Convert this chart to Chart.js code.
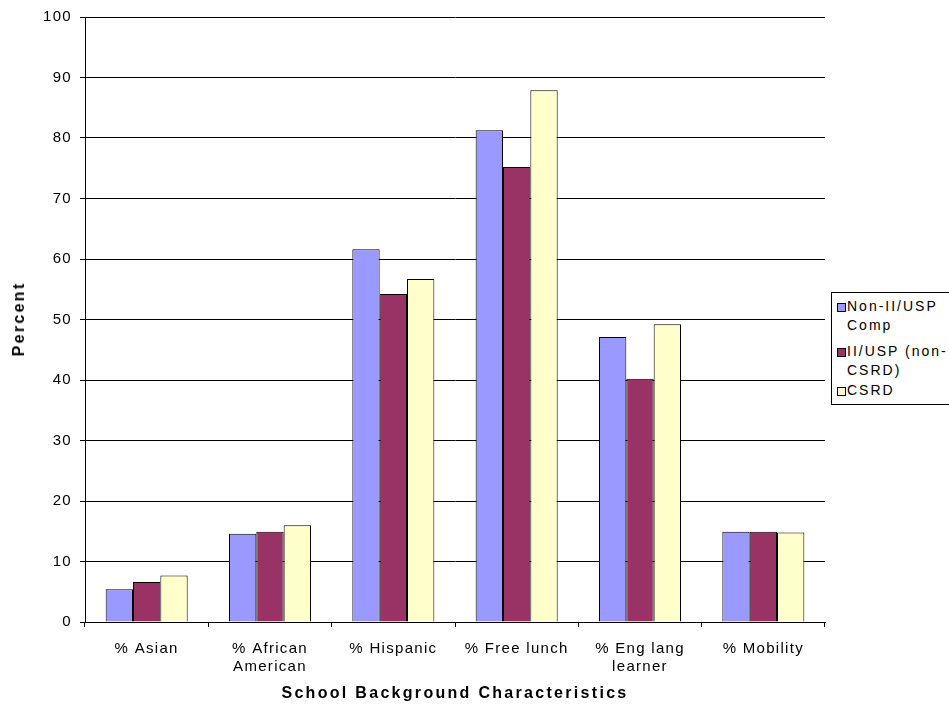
<!DOCTYPE html>
<html>
<head>
<meta charset="utf-8">
<script src="https://cdn.jsdelivr.net/npm/chart.js@4/dist/chart.umd.min.js"></script>
<style>
    body { margin: 0; background: #fff; }
    #wrap { position: relative; width: 949px; height: 704px; font-family: "Liberation Sans", Arial, sans-serif; color: #000; }
    #legend {
        position: absolute; left: 831px; top: 292px; width: 130px; height: 113px;
        border: 1px solid #000; background: #fff; box-sizing: border-box;
        font-size: 14px; letter-spacing: 2px;
    }
    .item { position: absolute; left: 5px; line-height: 18.5px; white-space: nowrap; }
    .item span.sw {
        display: inline-block; width: 7px; height: 7px; border: 1px solid #000;
        vertical-align: top; margin-top: 6px; margin-right: 1px;
    }
    .item span.tx { display: inline-block; vertical-align: top; }
    .title { position: absolute; font-weight: bold; font-size: 16px; letter-spacing: 2.3px; white-space: nowrap; line-height: 20px; }
    #xTitle { left: 455px; top: 683px; transform: translateX(-50%); }
    #yTitle { left: 19px; top: 319px; transform: translate(-50%, -50%) rotate(-90deg); }
</style>
</head>
<body>
<div id="wrap">
    <canvas id="graph1" width="949" height="704"></canvas>
    <div id="legend"></div>
    <div class="title" id="yTitle">Percent</div>
    <div class="title" id="xTitle">School Background Characteristics</div>
</div>
<script>
const categories = [['% Asian'], ['% African', 'American'], ['% Hispanic'], ['% Free lunch'], ['% Eng lang', 'learner'], ['% Mobility']];
const seriesNames = [['Non-II/USP', 'Comp'], ['II/USP (non-', 'CSRD)'], ['CSRD']];
const nonIIUSP = [5.4, 14.6, 61.6, 81.3, 47.1, 14.9];
const iiUSP = [6.6, 14.9, 54.2, 75.2, 40.2, 14.9];
const csrd = [7.7, 16.0, 56.7, 87.9, 49.2, 14.8];
const yTicks = [0, 10, 20, 30, 40, 50, 60, 70, 80, 90, 100];

const colors = ['#9999ff', '#993366', '#ffffcc'];
const font = { family: '"Liberation Sans", Arial, sans-serif', size: 15, lineHeight: 1.2 };

const legendTops = [4, 49, 88];
const legend = document.getElementById('legend');
seriesNames.forEach((name, i) => {
    const div = document.createElement('div');
    div.className = 'item';
    div.style.top = legendTops[i] + 'px';
    div.innerHTML = `<span class="sw" style="background:${colors[i]}"></span><span class="tx">${name.join('<br>')}</span>`;
    legend.appendChild(div);
});

// wide letter spacing like the original export
const spacingPlugin = {
    id: 'spacing',
    beforeDraw(chart) { chart.ctx.letterSpacing = '1.3px'; }
};

const canvas = document.getElementById('graph1');
new Chart(canvas, {
    type: 'bar',
    data: {
        labels: categories,
        datasets: [nonIIUSP, iiUSP, csrd].map((d, i) => ({
            label: seriesNames[i].join(' '),
            data: d,
            backgroundColor: colors[i],
            borderColor: '#000',
            borderWidth: 1,
            barPercentage: 1.0,
            categoryPercentage: 0.665
        }))
    },
    plugins: [spacingPlugin],
    options: {
        responsive: false,
        animation: false,
        layout: { padding: { left: 0, right: 124, top: 17, bottom: 0 } },
        plugins: {
            legend: { display: false },
            tooltip: { enabled: false }
        },
        scales: {
            x: {
                grid: { offset: true, drawOnChartArea: false, drawTicks: true, tickLength: 5, color: '#000' },
                border: { color: '#000', width: 1 },
                ticks: { color: '#000', font: font, padding: 13, maxRotation: 0 },
                afterFit: (scale) => { scale.height = 82; }
            },
            y: {
                min: 0, max: 100,
                afterBuildTicks: (scale) => { scale.ticks = yTicks.map(v => ({ value: v })); },
                grid: { color: '#000', lineWidth: 1, tickLength: 5 },
                border: { color: '#000', width: 1 },
                ticks: { color: '#000', font: font, padding: 8 },
                afterFit: (scale) => { scale.width = 85; }
            }
        }
    }
});
</script>
</body>
</html>
